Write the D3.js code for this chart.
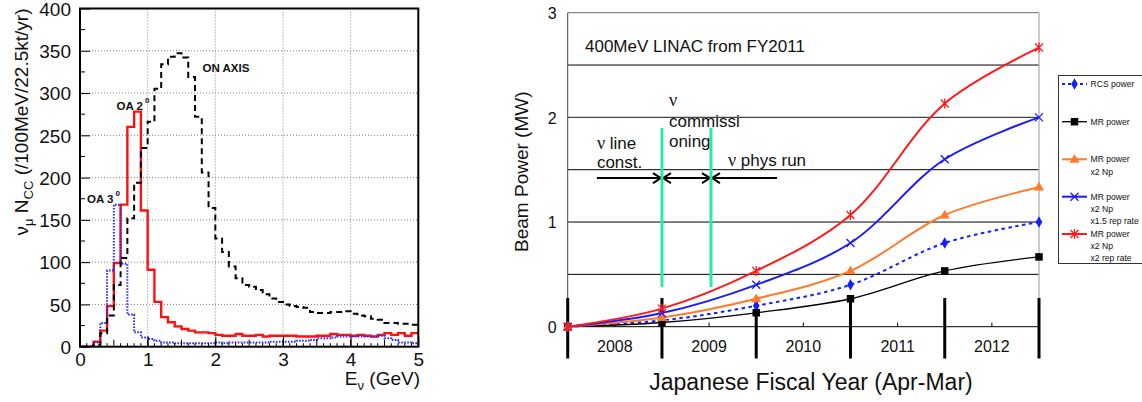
<!DOCTYPE html>
<html>
<head>
<meta charset="utf-8">
<script src="https://cdn.jsdelivr.net/npm/d3@7"></script>
<style>
  html, body { margin: 0; padding: 0; background: #fff; }
  svg { display: block; font-family: "Liberation Sans", Arial, sans-serif; }
</style>
</head>
<body>
<svg id="chart" width="1142" height="402"></svg>
<script>
// ---------------- spectra data (events per 0.1 GeV bin, 0 - 5 GeV) ----------------
const binWidth = 0.1;
const onAxis = [0, 0, 2, 16, 37, 73, 105, 152, 194, 235,
                266, 305, 334, 343, 347, 342, 319, 272, 206, 164,
                128, 112, 95, 81, 73, 71, 67, 62, 57, 53,
                50, 48, 47, 46, 41, 40, 40, 41, 41, 42,
                39, 37, 36, 33, 32, 28, 28, 27, 27, 26];
const offAxis2 = [0, 0, 6, 19, 48, 99, 168, 260, 278, 161,
                  91, 53, 35, 29, 24, 21, 19, 17, 17, 16,
                  14, 13, 13, 15, 13, 13, 14, 12, 13, 13,
                  13, 13, 12, 12, 12, 13, 13, 15, 14, 14,
                  13, 14, 13, 12, 14, 16, 14, 16, 13, 16];
const offAxis3 = [0, 0, 5, 28, 90, 168, 98, 38, 17, 11,
                  9, 7, 5, 5, 4, 4, 4, 4, 4, 4,
                  5, 4, 5, 5, 5, 5, 5, 5, 6, 6,
                  6, 6, 7, 7, 8, 10, 10, 11, 12, 12,
                  12, 12, 12, 12, 13, 10, 8, 5, 5, 4];
const spectraXTicks = [0, 1, 2, 3, 4, 5];
const spectraYTicks = [0, 50, 100, 150, 200, 250, 300, 350, 400];

// ---------------- beam power data (MW at fiscal-year boundaries) ----------------
const fiscalYears = ["2008", "2009", "2010", "2011", "2012"];
const rcsPower      = [0, 0.06, 0.2, 0.4, 0.8, 1.0];
const mrPower       = [0, 0.04, 0.133, 0.267, 0.533, 0.667];
const mrPower2Np    = [0, 0.087, 0.267, 0.533, 1.067, 1.333];
const mrPower2Np15  = [0, 0.13, 0.4, 0.8, 1.6, 2.0];
const mrPower2Np2   = [0, 0.173, 0.533, 1.067, 2.133, 2.667];
const powerYTicks = [0, 1, 2, 3];
const powerGrid = [0.5, 1, 1.5, 2, 2.5];
// construction / commissioning / physics-run phase edges (in fiscal-year units)
const phaseEdges = [0.31, 1, 1.52, 2.22];

const svg = d3.select("#chart");
const intFmt = d3.format("d");

// =================== left panel: neutrino spectra ===================
const L = { x0: 80, x1: 418.3, y0: 8.5, y1: 346.7 };
const xL = d3.scaleLinear().domain([0, 5]).range([L.x0, L.x1]);
const yL = d3.scaleLinear().domain([0, 400]).range([L.y1, L.y0]);

const left = svg.append("g");

svg.append("defs").append("clipPath").attr("id", "clipL")
  .append("rect").attr("x", L.x0).attr("y", L.y0)
  .attr("width", L.x1 - L.x0).attr("height", L.y1 - L.y0);

// dotted grid
const gridL = left.append("g").attr("stroke", "#808080").attr("stroke-width", 1)
  .attr("stroke-dasharray", "1,2");
spectraXTicks.slice(1, -1).forEach(v => {
  gridL.append("line").attr("x1", xL(v)).attr("x2", xL(v)).attr("y1", L.y0).attr("y2", L.y1);
});
spectraYTicks.slice(1, -1).forEach(v => {
  gridL.append("line").attr("x1", L.x0).attr("x2", L.x1).attr("y1", yL(v)).attr("y2", yL(v));
});

// histograms
function stepPoints(vals) {
  const p = vals.map((v, i) => [i * binWidth, v]);
  p.push([vals.length * binWidth, vals[vals.length - 1]]);
  return p;
}
const stepLine = d3.line().x(d => xL(d[0])).y(d => yL(d[1])).curve(d3.curveStepAfter);
const hists = left.append("g").attr("clip-path", "url(#clipL)").attr("fill", "none");
hists.append("path").attr("d", stepLine(stepPoints(offAxis2)))
  .attr("stroke", "#ff1010").attr("stroke-width", 2.4);
hists.append("path").attr("d", stepLine(stepPoints(offAxis3)))
  .attr("stroke", "#2a2aff").attr("stroke-width", 2).attr("stroke-dasharray", "1.6,1.4");
hists.append("path").attr("d", stepLine(stepPoints(onAxis)))
  .attr("stroke", "#000").attr("stroke-width", 2).attr("stroke-dasharray", "6,4");

// minor ticks
const tickL = left.append("g").attr("stroke", "#000").attr("stroke-width", 1);
d3.range(0, 5.001, 0.1).forEach(v => {
  const half = Math.abs(v * 2 - Math.round(v * 2)) < 1e-6;
  const len = half ? 7 : 3.5;
  tickL.append("line").attr("x1", xL(v)).attr("x2", xL(v)).attr("y1", L.y1).attr("y2", L.y1 - len);
});
d3.range(25, 400, 50).forEach(v => {
  tickL.append("line").attr("x1", L.x0).attr("x2", L.x0 + 5).attr("y1", yL(v)).attr("y2", yL(v));
});

// axes (labels + major ticks)
const axL = left.append("g").attr("transform", `translate(${L.x0},0)`)
  .call(d3.axisLeft(yL).tickValues(spectraYTicks).tickFormat(intFmt)
    .tickSizeInner(-10).tickSizeOuter(0).tickPadding(9));
const axB = left.append("g").attr("transform", `translate(0,${L.y1})`)
  .call(d3.axisBottom(xL).tickValues(spectraXTicks).tickFormat(intFmt)
    .tickSizeInner(-10).tickSizeOuter(0).tickPadding(6));
[axL, axB].forEach(a => {
  a.select(".domain").remove();
  a.selectAll("line").attr("stroke", "#000");
  a.selectAll("text").attr("font-size", 19).attr("fill", "#111")
    .attr("font-family", "'Liberation Sans', Arial, sans-serif");
});
axL.selectAll("text").attr("dy", "0.36em");

// frame
left.append("rect").attr("x", L.x0).attr("y", L.y0)
  .attr("width", L.x1 - L.x0).attr("height", L.y1 - L.y0)
  .attr("fill", "none").attr("stroke", "#000").attr("stroke-width", 2);

// axis titles
const yTitleL = left.append("text")
  .attr("transform", `translate(28,${L.y0}) rotate(-90)`)
  .attr("text-anchor", "end").attr("font-size", 19).attr("fill", "#111");
yTitleL.append("tspan").text("ν");
yTitleL.append("tspan").attr("font-size", 13).attr("dy", 5).text("μ");
yTitleL.append("tspan").attr("dy", -5).text(" N");
yTitleL.append("tspan").attr("font-size", 13).attr("dy", 5).text("CC");
yTitleL.append("tspan").attr("dy", -5).text(" (/100MeV/22.5kt/yr)");

const xTitleL = left.append("text").attr("x", 420).attr("y", 385)
  .attr("text-anchor", "end").attr("font-size", 19).attr("fill", "#111");
xTitleL.append("tspan").text("E");
xTitleL.append("tspan").attr("font-size", 13).attr("dy", 5).text("ν");
xTitleL.append("tspan").attr("dy", -5).text(" (GeV)");

// curve labels
function degLabel(x, y, main) {
  const t = left.append("text").attr("x", x).attr("y", y)
    .attr("font-size", 11.5).attr("font-weight", "bold").attr("fill", "#111");
  t.append("tspan").text(main);
  t.append("tspan").attr("font-size", 8).attr("dx", 2).attr("dy", -7).text("0");
}
degLabel(87, 202.5, "OA 3");
degLabel(116.5, 109.5, "OA 2");
left.append("text").attr("x", 202.5).attr("y", 71.7)
  .attr("font-size", 11.5).attr("font-weight", "bold").attr("fill", "#111").text("ON AXIS");

// =================== right panel: beam power ===================
const R = { x0: 567.7, x1: 1039, yTop: 12.7, y0: 326.7 };
const xR = d3.scaleLinear().domain([0, fiscalYears.length]).range([R.x0, R.x1]);
const xBand = d3.scaleBand().domain(fiscalYears).range([R.x0, R.x1]);
const yR = d3.scaleLinear().domain([0, 3]).range([R.y0, R.yTop]);

const right = svg.append("g");

// grid
powerGrid.forEach(v => {
  right.append("line").attr("x1", R.x0).attr("x2", R.x1).attr("y1", yR(v)).attr("y2", yR(v))
    .attr("stroke", v === 2 ? "#444" : "#000").attr("stroke-width", v === 2 ? 1.4 : 1);
});
right.append("line").attr("x1", R.x0).attr("x2", R.x1).attr("y1", yR(3)).attr("y2", yR(3))
  .attr("stroke", "#888").attr("stroke-width", 1.2);
right.append("line").attr("x1", R.x1).attr("x2", R.x1).attr("y1", yR(3)).attr("y2", R.y0)
  .attr("stroke", "#aaa").attr("stroke-width", 1.2);
right.append("line").attr("x1", R.x0).attr("x2", R.x0).attr("y1", yR(3)).attr("y2", R.y0)
  .attr("stroke", "#444").attr("stroke-width", 1);
right.append("line").attr("x1", R.x0).attr("x2", R.x1).attr("y1", R.y0).attr("y2", R.y0)
  .attr("stroke", "#000").attr("stroke-width", 1);

// y axis labels
const axRY = right.append("g").attr("transform", `translate(${R.x0},0)`)
  .call(d3.axisLeft(yR).tickValues(powerYTicks).tickFormat(intFmt).tickSize(0).tickPadding(11));
axRY.select(".domain").remove();
axRY.selectAll("text").attr("font-size", 16).attr("fill", "#111").attr("dy", "0.37em")
  .attr("font-family", "'Liberation Sans', Arial, sans-serif");

// year labels with small mid-year ticks
const axRX = right.append("g").attr("transform", `translate(0,${R.y0})`)
  .call(d3.axisBottom(xBand).tickSizeInner(-4).tickSizeOuter(0).tickPadding(13.5));
axRX.select(".domain").remove();
axRX.selectAll("line").attr("stroke", "#000");
axRX.selectAll("text").attr("font-size", 16).attr("fill", "#111")
  .attr("font-family", "'Liberation Sans', Arial, sans-serif");

// thick fiscal-year boundary bars
d3.range(0, fiscalYears.length + 1).forEach(i => {
  right.append("line").attr("x1", xR(i)).attr("x2", xR(i)).attr("y1", 298).attr("y2", 358.5)
    .attr("stroke", "#000").attr("stroke-width", 3);
});

// titles
right.append("text")
  .attr("transform", `translate(528,${(R.yTop + R.y0) / 2 + 2}) rotate(-90)`)
  .attr("text-anchor", "middle").attr("font-size", 19).attr("fill", "#111")
  .text("Beam Power (MW)");
right.append("text").attr("x", 811).attr("y", 389.5)
  .attr("text-anchor", "middle").attr("font-size", 23).attr("fill", "#111")
  .text("Japanese Fiscal Year (Apr-Mar)");

// annotations
right.append("text").attr("x", 585).attr("y", 51.5).attr("font-size", 17).attr("fill", "#111")
  .text("400MeV LINAC from FY2011");

function annot(x, y, parts) {
  const t = right.append("text").attr("x", x).attr("y", y).attr("font-size", 17).attr("fill", "#111");
  parts.forEach(p => {
    const s = t.append("tspan").text(p.t);
    if (p.serif) s.attr("font-family", "'Liberation Serif', 'Times New Roman', serif").attr("font-size", 18);
  });
}
const nuX1 = xR(phaseEdges[1]) + 7;
annot(nuX1, 106, [{ t: "ν", serif: true }]);
annot(nuX1, 126.7, [{ t: "commissi" }]);
annot(nuX1, 146.7, [{ t: "oning" }]);
annot(xR(phaseEdges[0]), 149, [{ t: "ν", serif: true }, { t: " line" }]);
annot(xR(phaseEdges[0]), 168.3, [{ t: "const." }]);
annot(728, 166, [{ t: "ν", serif: true }, { t: " phys run" }]);

const arrowY = yR(1.42);
const arrows = right.append("g").attr("stroke", "#000").attr("stroke-width", 2).attr("fill", "none");
function head(x, dir) {
  arrows.append("path").attr("d", `M${x - dir * 8},${arrowY - 5}L${x},${arrowY}L${x - dir * 8},${arrowY + 5}`);
}
function shaft(a, b) {
  arrows.append("line").attr("x1", a).attr("x2", b).attr("y1", arrowY).attr("y2", arrowY);
}
shaft(xR(phaseEdges[0]), xR(phaseEdges[1]) - 1); head(xR(phaseEdges[1]) - 1, 1);
shaft(xR(phaseEdges[1]) + 1, xR(phaseEdges[2]) - 1); head(xR(phaseEdges[1]) + 1, -1); head(xR(phaseEdges[2]) - 1, 1);
shaft(xR(phaseEdges[2]) + 1, xR(phaseEdges[3])); head(xR(phaseEdges[2]) + 1, -1);

// phase boundary markers drawn over the arrows
const green = "#2ee6a6";
[phaseEdges[1], phaseEdges[2]].forEach(v => {
  right.append("line").attr("x1", xR(v)).attr("x2", xR(v)).attr("y1", yR(1.9)).attr("y2", yR(0.38))
    .attr("stroke", green).attr("stroke-width", 3);
});

// series
const series = [
  { name: ["RCS power"], values: rcsPower, color: "#1020ff", width: 2, dash: "3.5,3.5", marker: "diamond" },
  { name: ["MR power"], values: mrPower, color: "#000000", width: 1.3, dash: null, marker: "square" },
  { name: ["MR power", "x2 Np"], values: mrPower2Np, color: "#ff7a2a", width: 2, dash: null, marker: "triangle" },
  { name: ["MR power", "x2 Np", "x1.5 rep rate"], values: mrPower2Np15, color: "#1a1aff", width: 2, dash: null, marker: "x" },
  { name: ["MR power", "x2 Np", "x2 rep rate"], values: mrPower2Np2, color: "#ff1a1a", width: 2, dash: null, marker: "star" }
];

function drawMarker(g, type, x, y, color) {
  if (type === "diamond") {
    g.append("path").attr("d", d3.symbol(d3.symbolDiamond, 38)()).attr("transform", `translate(${x},${y})`).attr("fill", color);
  } else if (type === "square") {
    g.append("path").attr("d", d3.symbol(d3.symbolSquare, 56)()).attr("transform", `translate(${x},${y})`).attr("fill", color);
  } else if (type === "triangle") {
    g.append("path").attr("d", d3.symbol(d3.symbolTriangle, 44)()).attr("transform", `translate(${x},${y + 0.5})`).attr("fill", color);
  } else if (type === "x") {
    g.append("path").attr("d", "M-4,-4L4,4M-4,4L4,-4").attr("transform", `translate(${x},${y})`)
      .attr("stroke", color).attr("stroke-width", 1.3).attr("fill", "none");
  } else if (type === "star") {
    g.append("path").attr("d", "M-4,-4L4,4M-4,4L4,-4M0,-5L0,5").attr("transform", `translate(${x},${y})`)
      .attr("stroke", color).attr("stroke-width", 1.3).attr("fill", "none");
  }
}

const powerLine = d3.line().x((d, i) => xR(i)).y(d => yR(d)).curve(d3.curveCatmullRom.alpha(0.5));
series.forEach(s => {
  const g = right.append("g");
  g.append("path").attr("d", powerLine(s.values)).attr("fill", "none")
    .attr("stroke", s.color).attr("stroke-width", s.width)
    .attr("stroke-dasharray", s.dash);
  s.values.forEach((v, i) => drawMarker(g, s.marker, xR(i), yR(v), s.color));
});

// legend
const legend = right.append("g");
legend.append("rect").attr("x", 1058.5).attr("y", 75.5).attr("width", 100).attr("height", 188)
  .attr("fill", "#fff").attr("stroke", "#333").attr("stroke-width", 1);
const legendY = [84, 121.7, 159.3, 196.7, 234];
series.forEach((s, k) => {
  const y = legendY[k];
  const g = legend.append("g");
  g.append("line").attr("x1", 1062).attr("x2", 1087).attr("y1", y).attr("y2", y)
    .attr("stroke", s.color).attr("stroke-width", s.width === 1.3 ? 1.3 : 2)
    .attr("stroke-dasharray", s.dash ? "3,3" : null);
  drawMarker(g, s.marker, 1074.5, y, s.color);
  s.name.forEach((line, j) => {
    g.append("text").attr("x", 1090.5).attr("y", y + 3 + j * 12.2)
      .attr("font-size", 8.6).attr("fill", "#111").text(line);
  });
});
</script>
</body>
</html>
